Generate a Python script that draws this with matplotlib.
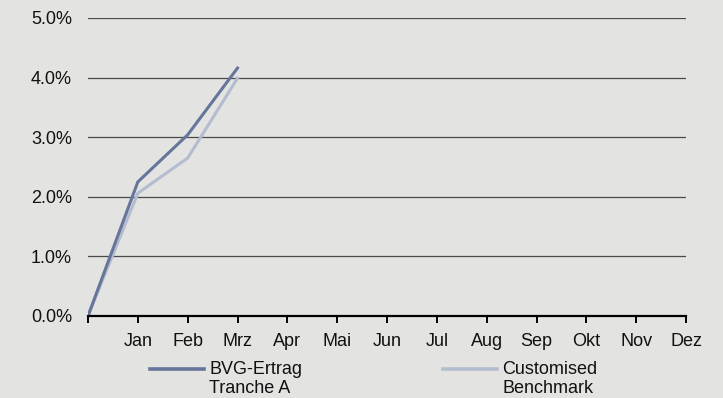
import matplotlib.pyplot as plt
from matplotlib.lines import Line2D
from matplotlib.ticker import FuncFormatter

# monthly cumulative performance (in %)
months = ["Jan", "Feb", "Mrz", "Apr", "Mai", "Jun",
          "Jul", "Aug", "Sep", "Okt", "Nov", "Dez"]
bvg_ertrag = [0.0, 2.25, 3.04, 4.16]
benchmark = [0.0, 2.06, 2.65, 3.99]
series_labels = ["BVG-Ertrag\nTranche A", "Customised\nBenchmark"]

bg = "#e3e3e1"
dark = "#65769a"
light = "#b4bccf"

plt.rcParams["font.family"] = ["Liberation Sans", "DejaVu Sans"]
plt.rcParams["font.size"] = 13

fig = plt.figure(figsize=(7.23, 3.98), dpi=100, facecolor=bg)
ax = fig.add_axes([88 / 723, 1 - 316 / 398, (686 - 88) / 723, (316 - 18) / 398])
ax.set_facecolor(bg)

ax.set_xlim(0, 12)
ax.set_ylim(0, 5)

# horizontal grid
for yv in [1, 2, 3, 4, 5]:
    ax.axhline(yv, color="#4a4a4a", lw=0.9, zorder=1)

ax.plot(range(len(benchmark)), benchmark, color=light, lw=2.2, zorder=3,
        solid_joinstyle="miter")
ax.plot(range(len(bvg_ertrag)), bvg_ertrag, color=dark, lw=2.2, zorder=4,
        solid_joinstyle="miter")

for s in ["top", "right", "left"]:
    ax.spines[s].set_visible(False)
ax.spines["bottom"].set_color("black")
ax.spines["bottom"].set_linewidth(1.6)
ax.spines["bottom"].set_zorder(5)

ax.set_xticks(range(13))
ax.set_xticklabels([""] + months)
ax.tick_params(axis="x", direction="out", length=5, width=1.4, pad=7,
               colors="black")
ax.set_yticks([0, 1, 2, 3, 4, 5])
ax.yaxis.set_major_formatter(FuncFormatter(lambda v, p: f"{v:.1f}%"))
ax.tick_params(axis="y", length=0, pad=11.5)
for lbl in ax.get_xticklabels() + ax.get_yticklabels():
    lbl.set_color("#111111")

# legend below the plot
legend_x = [150, 443]
for x0, col, lab in zip(legend_x, [dark, light], series_labels):
    fig.add_artist(Line2D([x0 / 723, (x0 + 54) / 723],
                          [1 - 369 / 398, 1 - 369 / 398],
                          color=col, lw=2.6, transform=fig.transFigure))
    fig.text((x0 + 59) / 723, 1 - 361 / 398, lab, ha="left", va="top",
             color="#111111", linespacing=1.15)

fig.savefig("out.png", dpi=100, facecolor=bg)
